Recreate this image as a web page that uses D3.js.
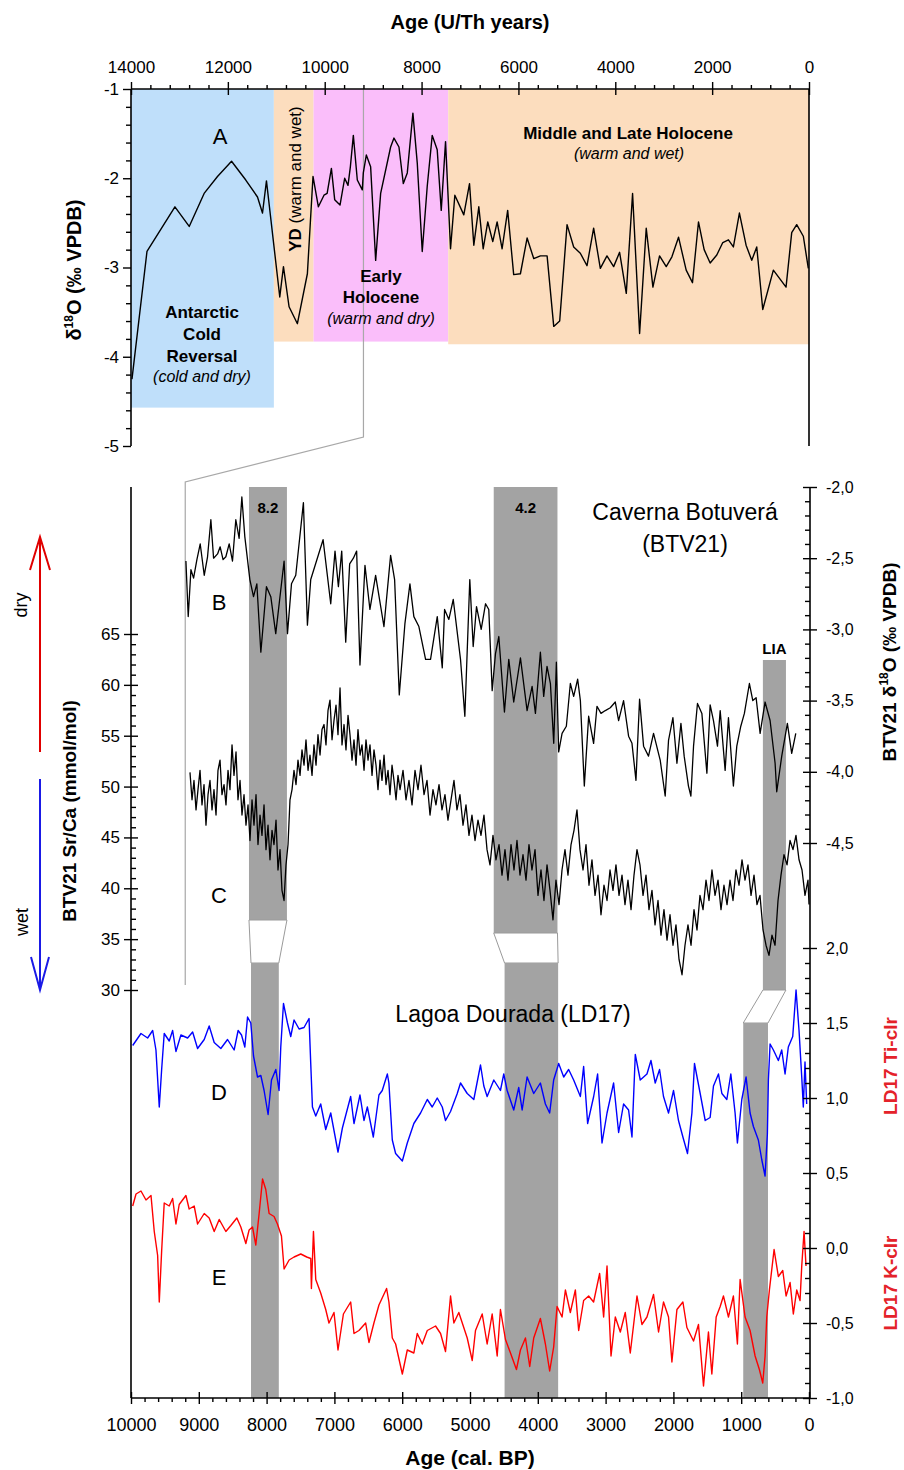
<!DOCTYPE html>
<html lang="en">

<head>
    <meta charset="UTF-8">
    <title>Botuvera and Lagoa Dourada records</title>

    <script src="https://d3js.org/d3.v7.min.js"></script>

    <style>
        body {
            margin: 0;
            background: #fff;
        }

        svg text {
            font-family: "Liberation Sans", Arial, Helvetica, sans-serif;
        }
    </style>

</head>

<body>
    <svg width="904" height="1470"></svg>

    <script>
        // ---- data: panel A, d18O (U/Th years) ----
        const ageA = [13980, 13670, 13093, 12798, 12490, 12214, 11924, 11630, 11388, 11285, 11203, 10928, 10852, 10736,
            10564, 10358, 10242, 10131, 10015, 9950, 9862, 9794, 9684, 9588, 9519, 9470, 9409, 9327, 9224, 9203, 9141,
            9052, 8948, 8845, 8639, 8570, 8467, 8377, 8295, 8179, 8089, 7986, 7883, 7780, 7677, 7594, 7505, 7402, 7313,
            7128, 7010, 6921, 6818, 6728, 6633, 6530, 6440, 6337, 6222, 6098, 5959, 5821, 5684, 5546, 5408, 5271, 5148,
            4996, 4859, 4722, 4584, 4447, 4309, 4172, 4034, 3911, 3773, 3643, 3498, 3361, 3223, 3086, 2948, 2831, 2694,
            2536, 2406, 2282, 2165, 2041, 1904, 1780, 1664, 1561, 1437, 1299, 1182, 1079, 955, 736, 474, 357, 254, 117, 14];
        const d18oA = [-4.25, -2.82, -2.32, -2.54, -2.17, -1.98, -1.81, -2.02, -2.21, -2.39, -2.03, -3.33, -2.99, -3.44,
            -3.63, -3.07, -1.98, -2.32, -2.19, -2.17, -1.89, -2.24, -2.30, -2.00, -2.08, -1.87, -1.52, -2.02, -2.13, -1.94,
            -1.74, -1.87, -2.92, -2.17, -1.65, -1.55, -1.65, -2.06, -1.94, -1.27, -1.83, -2.82, -2.09, -1.52, -1.68, -2.36,
            -1.59, -2.79, -2.19, -2.41, -2.06, -2.75, -2.32, -2.79, -2.49, -2.71, -2.49, -2.79, -2.36, -3.08, -3.07, -2.67,
            -2.90, -2.87, -2.87, -3.66, -3.60, -2.52, -2.77, -2.84, -2.98, -2.56, -3.01, -2.87, -2.99, -2.83, -3.29, -2.17,
            -3.74, -2.56, -3.22, -2.87, -2.99, -2.88, -2.66, -3.03, -3.17, -2.49, -2.80, -2.95, -2.86, -2.72, -2.69, -2.77,
            -2.39, -2.75, -2.92, -2.77, -3.47, -3.03, -3.22, -2.61, -2.52, -2.65, -3.01];

        // climate periods shaded behind panel A
        const periodStart = [14000, 11050, 10230, 7450];
        const periodEnd = [11050, 10230, 7450, 0];
        const periodColors = ["#bfdffa", "#fcddbe", "#fabefa", "#fcddbe"];

        // ---- data: panel B, BTV21 d18O (cal. BP) ----
        const ageB = [9190, 9156, 9116, 9077, 9028, 8979, 8920, 8871, 8822, 8782, 8723, 8685, 8642, 8601, 8552, 8503,
            8454, 8405, 8365, 8321, 8247, 8193, 8144, 8085, 8002, 7938, 7865, 7742, 7692, 7633, 7570, 7457, 7398, 7349,
            7167, 7054, 6991, 6941, 6892, 6833, 6775, 6720, 6672, 6623, 6549, 6476, 6392, 6269, 6171, 6112, 6043, 5960,
            5886, 5828, 5754, 5655, 5582, 5483, 5409, 5375, 5312, 5247, 5140, 5076, 5003, 4953, 4904, 4835, 4771, 4723,
            4673, 4624, 4575, 4492, 4428, 4355, 4256, 4158, 4084, 4035, 3962, 3913, 3864, 3814, 3765, 3726, 3692, 3642,
            3579, 3520, 3471, 3412, 3372, 3314, 3250, 3177, 3127, 3068, 3004, 2931, 2857, 2808, 2735, 2661, 2611, 2552,
            2499, 2440, 2367, 2293, 2194, 2121, 2072, 2007, 1948, 1889, 1841, 1778, 1742, 1703, 1645, 1580, 1506, 1458,
            1409, 1350, 1310, 1237, 1188, 1115, 1065, 1006, 953, 879, 829, 780, 721, 648, 574, 500, 476, 402, 319, 255, 195];
        const d18oB = [-2.52, -2.91, -2.58, -2.64, -2.51, -2.40, -2.62, -2.49, -2.23, -2.50, -2.47, -2.42, -2.51, -2.49,
            -2.40, -2.52, -2.23, -2.36, -2.07, -2.35, -2.65, -2.77, -2.68, -3.16, -2.70, -2.77, -3.03, -2.52, -3.03, -2.68,
            -2.62, -2.11, -2.97, -2.65, -2.37, -2.82, -2.45, -2.70, -2.45, -3.09, -2.54, -2.50, -2.45, -3.25, -2.55, -2.86,
            -2.62, -2.98, -2.48, -2.65, -3.46, -2.96, -2.68, -2.91, -2.98, -3.21, -3.21, -2.91, -3.27, -2.86, -2.93, -2.79,
            -3.21, -3.61, -2.65, -3.12, -2.84, -3.00, -2.82, -2.86, -3.43, -3.17, -3.05, -3.58, -3.21, -3.51, -3.20, -3.57,
            -3.40, -3.59, -3.16, -3.47, -3.26, -3.38, -3.80, -3.23, -3.86, -3.73, -3.68, -3.38, -3.47, -3.35, -3.50, -4.10,
            -3.61, -3.80, -3.54, -3.59, -3.57, -3.55, -3.51, -3.64, -3.50, -3.75, -3.80, -4.06, -3.49, -3.82, -3.89, -3.73,
            -3.92, -4.17, -3.78, -3.62, -3.94, -3.66, -3.89, -4.10, -4.17, -3.82, -3.52, -3.59, -4.01, -3.53, -3.64, -3.82,
            -3.57, -3.99, -3.62, -4.10, -3.82, -3.68, -3.59, -3.38, -3.50, -3.48, -3.73, -3.51, -3.64, -3.94, -4.14, -3.89,
            -3.66, -3.87, -3.73];

        // ---- data: panel C, BTV21 Sr/Ca (mmol/mol) ----
        const ageC = [9130, 9100, 9071, 9041, 9012, 8982, 8953, 8923, 8894, 8864,
            8835, 8805, 8776, 8746, 8717, 8687, 8658, 8628, 8599, 8569,
            8540, 8510, 8481, 8451, 8422, 8392, 8363, 8333, 8304, 8274,
            8245, 8215, 8186, 8156, 8127, 8097, 8068, 8038, 8009, 7979,
            7950, 7920, 7891, 7861, 7832, 7802, 7773, 7743, 7714, 7684,
            7655, 7625, 7596, 7566, 7537, 7507, 7478, 7448, 7419, 7389,
            7360, 7330, 7301, 7271, 7242, 7212, 7183, 7153, 7124, 7094,
            7065, 7035, 7006, 6976, 6947, 6917, 6888, 6858, 6829, 6799,
            6770, 6740, 6711, 6681, 6652, 6622, 6593, 6563, 6534, 6504,
            6475, 6445, 6416, 6386, 6357, 6327, 6298, 6268, 6239, 6209,
            6180, 6150, 6121, 6091, 6062, 6032,
            5988, 5944, 5900, 5855, 5811, 5767, 5723, 5678, 5634, 5590,
            5546, 5502, 5457, 5413, 5369, 5325, 5280, 5236, 5192, 5148,
            5103, 5059, 5015, 4971, 4926, 4882, 4838, 4794, 4749, 4705,
            4661, 4617, 4572, 4528, 4484, 4440, 4395, 4351, 4307, 4263,
            4218, 4174, 4130, 4086, 4041, 3997, 3953, 3909, 3864, 3820,
            3776, 3732, 3687, 3643, 3599, 3555, 3510, 3466, 3422, 3378,
            3333, 3289, 3245, 3201, 3156, 3112, 3068, 3024, 2979, 2935,
            2891, 2847, 2802, 2758, 2714, 2670, 2625, 2581, 2537, 2493,
            2448, 2404, 2360, 2316, 2271, 2227, 2183, 2139, 2094, 2050,
            2006, 1962, 1917, 1873, 1829, 1785, 1740, 1696, 1652, 1608,
            1563, 1519, 1475, 1431, 1386, 1342, 1298, 1254, 1209, 1165,
            1121, 1077, 1032, 988, 944, 900, 855, 811, 767, 723,
            678, 634, 590, 546, 501, 457, 413, 369, 324, 280,
            236, 192, 147, 103, 59, 15, 0];
        const srcaC = [51.4, 48.7, 50.6, 47.7, 49.7, 51.6, 48.2, 50.2, 46.2, 49.2,
            50.6, 47.7, 49.7, 47.2, 51.6, 52.6, 49.2, 50.2, 48.2, 51.6,
            49.7, 54.1, 51.1, 53.4, 48.7, 50.6, 47.2, 49.2, 46.2, 48.2,
            44.7, 48.7, 46.2, 49.2, 44.3, 47.2, 45.2, 48.2, 43.8, 46.2,
            42.8, 45.7, 44.3, 46.7, 41.8, 43.8, 39.8, 38.8, 42.3, 44.3,
            48.7, 49.7, 51.6, 50.2, 52.6, 51.1, 53.6, 52.1, 54.6, 51.6,
            53.1, 51.1, 54.1, 52.1, 55.1, 53.1, 55.6, 56.1, 54.1, 57.5,
            58.5, 54.6, 56.5, 58.0, 55.1, 59.7, 54.1, 56.1, 53.6, 57.0,
            55.1, 52.6, 54.6, 52.1, 55.6, 53.1, 54.1, 51.6, 54.6, 52.6,
            54.1, 51.1, 53.6, 52.1, 49.7, 52.6, 50.6, 53.1, 50.2, 51.6,
            49.2, 52.1, 50.6, 48.7, 51.1, 49.7,
            51.6, 48.7, 50.6, 48.2, 51.6, 49.7, 52.1, 49.2, 50.6, 47.2,
            49.7, 48.2, 50.2, 47.7, 49.2, 46.7, 48.7, 50.6, 47.7, 49.2,
            46.2, 48.2, 45.2, 47.2, 44.7, 46.7, 45.2, 47.2, 43.8, 42.3,
            45.2, 42.8, 44.3, 41.3, 43.8, 40.8, 44.3, 41.8, 44.7, 41.3,
            43.3, 40.8, 44.3, 41.8, 43.8, 39.3, 41.8, 38.8, 42.3, 39.8,
            36.9, 40.8, 38.4, 41.8, 43.8, 41.3, 44.3, 45.7, 47.7, 43.8,
            41.8, 44.3, 40.3, 42.8, 39.3, 41.3, 37.4, 40.3, 38.8, 41.8,
            39.8, 42.3, 39.3, 41.3, 38.4, 40.8, 37.9, 41.3, 43.8, 42.3,
            39.3, 41.3, 37.9, 39.8, 36.4, 38.8, 35.4, 37.9, 34.9, 37.4,
            34.4, 36.4, 33.0, 31.5, 34.4, 36.4, 34.4, 37.9, 35.9, 39.3,
            37.9, 40.8, 38.8, 41.8, 39.3, 40.8, 37.9, 40.3, 38.4, 40.8,
            38.8, 41.8, 40.3, 42.8, 40.8, 42.3, 39.3, 41.3, 38.4, 39.3,
            35.9, 34.4, 33.4, 35.4, 34.4, 38.8, 41.3, 43.3, 42.3, 44.7,
            43.8, 45.2, 42.8, 41.8, 39.3, 40.8, 38.4];

        // ---- data: panel D, LD17 Ti-clr ----
        const ageD = [9975, 9853, 9755, 9680, 9632, 9583, 9548, 9510, 9436, 9386, 9337, 9264, 9165, 9091, 9018, 8920,
            8847, 8773, 8675, 8576, 8479, 8420, 8370, 8321, 8281, 8233, 8193, 8134, 8085, 8037, 7978, 7928, 7864, 7816,
            7791, 7751, 7692, 7644, 7595, 7521, 7448, 7374, 7349, 7324, 7275, 7202, 7128, 7054, 6947, 6882, 6760, 6711,
            6623, 6564, 6514, 6426, 6343, 6294, 6219, 6196, 6146, 6097, 5998, 5925, 5828, 5729, 5630, 5557, 5483, 5409,
            5361, 5287, 5188, 5140, 5041, 4944, 4845, 4796, 4747, 4649, 4551, 4502, 4452, 4355, 4281, 4231, 4158, 4060,
            3962, 3888, 3825, 3766, 3692, 3618, 3545, 3471, 3372, 3324, 3265, 3176, 3118, 3053, 2979, 2882, 2808, 2735,
            2661, 2611, 2562, 2489, 2390, 2331, 2268, 2204, 2146, 2072, 1998, 1925, 1860, 1792, 1727, 1689, 1605, 1531,
            1458, 1409, 1335, 1285, 1212, 1153, 1090, 1056, 991, 928, 869, 820, 747, 697, 648, 614, 599, 574, 525, 452,
            402, 353, 305, 240, 191, 147, 107, 84, 59, 34];
        const tiD = [1.35, 1.43, 1.40, 1.45, 1.32, 0.94, 1.19, 1.43, 1.38, 1.45, 1.31, 1.42, 1.40, 1.44, 1.33, 1.39,
            1.48, 1.37, 1.33, 1.39, 1.32, 1.45, 1.42, 1.34, 1.54, 1.50, 1.28, 1.14, 1.15, 1.05, 0.89, 1.12, 1.19, 1.05,
            1.34, 1.63, 1.50, 1.41, 1.52, 1.46, 1.47, 1.53, 1.23, 0.94, 0.88, 0.96, 0.79, 0.90, 0.64, 0.80, 1.01, 0.83,
            1.02, 0.85, 0.94, 0.74, 1.02, 1.05, 1.16, 1.10, 0.72, 0.63, 0.58, 0.70, 0.83, 0.90, 0.99, 0.94, 1.00, 0.94,
            0.85, 0.91, 1.03, 1.10, 1.03, 0.99, 1.22, 1.08, 1.01, 1.12, 1.05, 1.16, 1.05, 0.92, 1.07, 0.92, 1.14, 1.03,
            1.10, 0.96, 0.90, 1.12, 1.23, 1.14, 1.19, 1.12, 1.01, 1.21, 0.83, 1.01, 1.16, 0.70, 0.90, 1.10, 0.77, 0.96,
            0.92, 0.74, 1.29, 1.12, 1.16, 1.25, 1.10, 1.19, 1.01, 0.90, 1.05, 0.85, 0.74, 0.63, 0.90, 1.23, 1.03, 0.85,
            0.87, 1.08, 1.16, 1.03, 0.99, 1.16, 0.90, 0.70, 0.99, 1.14, 0.90, 0.81, 0.72, 0.59, 0.48, 0.76, 1.12, 1.36,
            1.32, 1.25, 1.32, 1.16, 1.34, 1.41, 1.72, 1.45, 1.14, 0.94, 1.24, 0.96];

        // ---- data: panel E, LD17 K-clr ----
        const ageE = [9975, 9926, 9853, 9779, 9705, 9657, 9607, 9583, 9548, 9510, 9436, 9386, 9337, 9289, 9190, 9142,
            9068, 9018, 8920, 8847, 8773, 8699, 8601, 8527, 8439, 8380, 8306, 8258, 8208, 8159, 8110, 8060, 8012, 7963,
            7890, 7840, 7781, 7742, 7668, 7595, 7496, 7408, 7349, 7339, 7309, 7275, 7202, 7128, 7080, 7006, 6947, 6867,
            6760, 6711, 6638, 6539, 6490, 6417, 6343, 6230, 6196, 6146, 6097, 5998, 5925, 5828, 5778, 5704, 5630, 5508,
            5434, 5361, 5287, 5238, 5165, 5041, 4967, 4919, 4820, 4747, 4673, 4599, 4551, 4477, 4403, 4315, 4256, 4182,
            4119, 4060, 3962, 3888, 3825, 3766, 3716, 3642, 3593, 3520, 3446, 3397, 3324, 3250, 3177, 3088, 3029, 2979,
            2920, 2857, 2783, 2710, 2636, 2537, 2464, 2390, 2293, 2219, 2146, 2072, 2022, 1948, 1860, 1801, 1703, 1630,
            1556, 1483, 1433, 1369, 1310, 1262, 1188, 1115, 1056, 1016, 943, 869, 795, 732, 682, 648, 623, 584, 515, 452,
            387, 338, 279, 231, 181, 132, 107, 73, 44];
        const kE = [0.28, 0.36, 0.38, 0.32, 0.35, 0.11, -0.05, -0.36, -0.02, 0.30, 0.28, 0.33, 0.16, 0.29, 0.35, 0.26,
            0.28, 0.16, 0.23, 0.20, 0.11, 0.19, 0.11, 0.15, 0.20, 0.14, 0.03, 0.12, 0.14, 0.02, 0.23, 0.46, 0.39, 0.23,
            0.21, 0.16, 0.08, -0.14, -0.08, -0.06, -0.04, -0.06, -0.07, -0.27, 0.11, -0.21, -0.30, -0.41, -0.50, -0.43,
            -0.68, -0.44, -0.36, -0.57, -0.55, -0.50, -0.63, -0.50, -0.38, -0.27, -0.36, -0.60, -0.64, -0.84, -0.68,
            -0.70, -0.57, -0.64, -0.55, -0.52, -0.57, -0.69, -0.32, -0.50, -0.43, -0.60, -0.75, -0.55, -0.44, -0.64, -0.44,
            -0.72, -0.41, -0.61, -0.70, -0.81, -0.68, -0.60, -0.79, -0.60, -0.47, -0.64, -0.82, -0.66, -0.39, -0.46, -0.28,
            -0.43, -0.28, -0.55, -0.35, -0.32, -0.36, -0.17, -0.46, -0.12, -0.72, -0.46, -0.56, -0.43, -0.70, -0.32, -0.51,
            -0.46, -0.31, -0.56, -0.36, -0.46, -0.76, -0.41, -0.36, -0.53, -0.62, -0.51, -0.92, -0.56, -0.84, -0.46, -0.39,
            -0.32, -0.46, -0.32, -0.64, -0.21, -0.46, -0.55, -0.72, -0.81, -0.90, -0.72, -0.46, -0.28, -0.01, -0.19, -0.15,
            -0.32, -0.23, -0.44, -0.28, -0.35, -0.12, 0.11, -0.12];

        // ---- abrupt events (cal. BP): upper part (Botuvera) and lower part (Lagoa Dourada) ----
        const eventLabels = ["8.2", "4.2", "LIA"];
        const eventUpperOld = [8260, 4650, 680];
        const eventUpperYoung = [7700, 3710, 340];
        const eventLowerOld = [8230, 4490, 970];
        const eventLowerYoung = [7820, 3700, 605];
        const linkAge = 9200;

        // ---- tick values ----
        const topTicks = d3.range(0, 14001, 2000);
        const leftTopTicks = [-1, -2, -3, -4, -5];
        const bottomTicks = d3.range(0, 10001, 1000);
        const srTicks = [30, 35, 40, 45, 50, 55, 60, 65];
        const btvTicks = [-2, -2.5, -3, -3.5, -4, -4.5];
        const ldTicks = [2, 1.5, 1, 0.5, 0, -0.5, -1];

        const svg = d3.select("svg");

        // scales
        const xTop = d3.scaleLinear().domain([14000, 0]).range([131, 809]);
        const yTop = d3.scaleLinear().domain([-1, -5]).range([89, 446]);
        const xBot = d3.scaleLinear().domain([10000, 0]).range([131, 809]);
        const yBtv = d3.scaleLinear().domain([-2, -4.5]).range([487, 843]);
        const ySr = d3.scaleLinear().domain([65, 30]).range([634, 990]);
        const yLd = d3.scaleLinear().domain([2, -1]).range([948, 1398]);

        const comma = d => d3.format(".1f")(Math.abs(d)).replace(".", ",");
        const signed = d => (d < 0 ? "-" : "") + comma(d);

        // ================= top panel =================
        const shadeFloor = [-4.57, -3.83, -3.83, -3.86];
        svg.append("g").selectAll("rect")
            .data(periodStart)
            .join("rect")
            .attr("x", (d, i) => xTop(periodStart[i]))
            .attr("width", (d, i) => xTop(periodEnd[i]) - xTop(periodStart[i]))
            .attr("y", yTop(-1))
            .attr("height", (d, i) => yTop(shadeFloor[i]) - yTop(-1))
            .attr("fill", (d, i) => periodColors[i]);

        // grey link lines between the two age scales
        svg.append("path")
            .attr("d", `M${xTop(linkAge)},${yTop(-1)} V437 L${xBot(linkAge)},482 V985`)
            .attr("fill", "none")
            .attr("stroke", "#a8a8a8")
            .attr("stroke-width", 1.2);

        const lineA = d3.line()
            .x((d, i) => xTop(ageA[i]))
            .y(d => yTop(d));
        svg.append("path")
            .attr("d", lineA(d18oA))
            .attr("fill", "none")
            .attr("stroke", "#000")
            .attr("stroke-width", 1.4)
            .attr("stroke-linejoin", "round");

        // top axis (U/Th years)
        svg.append("g")
            .attr("transform", "translate(0,89)")
            .call(d3.axisTop(xTop).tickValues(d3.range(400, 14000, 400).filter(d => d % 2000 !== 0))
                .tickSize(4).tickFormat(""));
        const topAxis = svg.append("g")
            .attr("transform", "translate(0,89)")
            .call(d3.axisTop(xTop).tickValues(topTicks).tickSize(7).tickPadding(9).tickFormat(d3.format("d")));
        topAxis.selectAll(".tick line").attr("y1", 6);

        // left axis (panel A)
        svg.append("g")
            .attr("transform", "translate(131,0)")
            .call(d3.axisLeft(yTop).tickValues(d3.range(-1.2, -4.9, -0.2).filter(d => Math.abs(d % 1) > 0.01))
                .tickSize(5).tickFormat(""));
        const leftTopAxis = svg.append("g")
            .attr("transform", "translate(131,0)")
            .call(d3.axisLeft(yTop).tickValues(leftTopTicks).tickSize(8).tickPadding(4).tickFormat(d => String(d)));

        // ================= bottom panel =================
        const bandGrey = "#a3a3a3";
        const bands = svg.append("g");
        const upperBottom = [920, 933, 990];
        const upperTop = [487, 487, 660];
        const lowerTop = [963, 963, 1023];
        eventLabels.forEach((name, i) => {
            const uo = xBot(eventUpperOld[i]), uy = xBot(eventUpperYoung[i]);
            const lo = xBot(eventLowerOld[i]), ly = xBot(eventLowerYoung[i]);
            bands.append("rect")
                .attr("x", uo).attr("width", uy - uo)
                .attr("y", upperTop[i]).attr("height", upperBottom[i] - upperTop[i])
                .attr("fill", bandGrey);
            bands.append("path")
                .attr("d", `M${uo},${upperBottom[i]} L${uy},${upperBottom[i]} L${ly},${lowerTop[i]} L${lo},${lowerTop[i]} Z`)
                .attr("fill", "#fff")
                .attr("stroke", "#9a9a9a")
                .attr("stroke-width", 1);
            bands.append("rect")
                .attr("x", lo).attr("width", ly - lo)
                .attr("y", lowerTop[i]).attr("height", 1398 - lowerTop[i])
                .attr("fill", bandGrey);
            bands.append("text")
                .attr("x", (uo + uy) / 2)
                .attr("y", upperTop[i] + (i < 2 ? 26 : -6))
                .attr("text-anchor", "middle")
                .attr("font-size", 15)
                .attr("font-weight", "bold")
                .text(name);
        });

        function drawSeries(ages, values, yScale, color, width) {
            const line = d3.line()
                .x((d, i) => xBot(ages[i]))
                .y(d => yScale(d));
            svg.append("path")
                .attr("d", line(values))
                .attr("fill", "none")
                .attr("stroke", color)
                .attr("stroke-width", width)
                .attr("stroke-linejoin", "round");
        }

        drawSeries(ageB, d18oB, yBtv, "#000", 1.3);
        drawSeries(ageC, srcaC, ySr, "#000", 1.3);
        drawSeries(ageD, tiD, yLd, "#0000ff", 1.4);
        drawSeries(ageE, kE, yLd, "#ff0000", 1.4);

        // bottom axis (cal. BP)
        svg.append("g")
            .attr("transform", "translate(0,1398)")
            .call(d3.axisBottom(xBot).tickValues(d3.range(200, 10000, 200).filter(d => d % 1000 !== 0))
                .tickSize(4).tickFormat(""));
        const botAxis = svg.append("g")
            .attr("transform", "translate(0,1398)")
            .call(d3.axisBottom(xBot).tickValues(bottomTicks).tickSize(6).tickPadding(14).tickFormat(d3.format("d")));
        botAxis.selectAll(".tick line").attr("y1", -6);

        // left axis Sr/Ca
        svg.append("g")
            .attr("transform", "translate(131,0)")
            .call(d3.axisRight(ySr).tickValues(d3.range(31, 65).filter(d => d % 5 !== 0))
                .tickSize(5).tickFormat(""));
        const srAxis = svg.append("g")
            .attr("transform", "translate(131,0)")
            .call(d3.axisLeft(ySr).tickValues(srTicks).tickSize(7).tickPadding(4).tickFormat(d3.format("d")));
        srAxis.selectAll(".tick line").attr("x1", 7);

        // right axes
        svg.append("g")
            .attr("transform", "translate(810,0)")
            .call(d3.axisLeft(yBtv).tickValues(d3.range(-2.1, -4.45, -0.1).filter(d => Math.abs((d * 10) % 5) > 0.1))
                .tickSize(5).tickFormat(""));
        const btvAxis = svg.append("g")
            .attr("transform", "translate(810,0)")
            .call(d3.axisRight(yBtv).tickValues(btvTicks).tickSize(7).tickPadding(9).tickFormat(signed));
        btvAxis.selectAll(".tick line").attr("x1", -7);

        svg.append("g")
            .attr("transform", "translate(810,0)")
            .call(d3.axisLeft(yLd).tickValues(d3.range(1.9, -0.95, -0.1).filter(d => Math.abs((Math.round(d * 10)) % 5) !== 0))
                .tickSize(5).tickFormat(""));
        const ldAxis = svg.append("g")
            .attr("transform", "translate(810,0)")
            .call(d3.axisRight(yLd).tickValues(ldTicks).tickSize(7).tickPadding(9).tickFormat(signed));
        ldAxis.selectAll(".tick line").attr("x1", -7);

        // clean axis styling
        svg.selectAll(".domain").remove();
        svg.selectAll(".tick line").attr("stroke", "#000").attr("stroke-width", 1.4);
        svg.selectAll(".tick text").attr("fill", "#000")
            .style("font-family", '"Liberation Sans", Arial, sans-serif');
        topAxis.selectAll("text").attr("font-size", 17);
        leftTopAxis.selectAll("text").attr("font-size", 17);
        botAxis.selectAll("text").attr("font-size", 18);
        srAxis.selectAll("text").attr("font-size", 17);
        btvAxis.selectAll("text").attr("font-size", 16);
        ldAxis.selectAll("text").attr("font-size", 16);

        // frames
        const frame = [
            [131, 89, 809, 89], [131, 89, 131, 446], [809, 89, 809, 446],
            [131, 1398, 810, 1398], [131, 487, 131, 1398], [810, 487, 810, 1398]
        ];
        svg.append("g").selectAll("line")
            .data(frame)
            .join("line")
            .attr("x1", d => d[0]).attr("y1", d => d[1])
            .attr("x2", d => d[2]).attr("y2", d => d[3])
            .attr("stroke", "#000")
            .attr("stroke-width", 1.6);

        // ================= text =================
        function label(x, y, txt, size, opts = {}) {
            return svg.append("text")
                .attr("x", x).attr("y", y)
                .attr("text-anchor", opts.anchor || "middle")
                .attr("font-size", size)
                .attr("font-weight", opts.bold ? "bold" : null)
                .attr("font-style", opts.italic ? "italic" : null)
                .attr("fill", opts.color || "#000")
                .attr("transform", opts.rotate ? `rotate(-90,${x},${y})` : null)
                .text(txt);
        }

        label(470, 29, "Age (U/Th years)", 20, { bold: true });
        label(470, 1465, "Age (cal. BP)", 21, { bold: true });

        label(220, 144, "A", 22);
        label(202, 318, "Antarctic", 17, { bold: true });
        label(202, 340, "Cold", 17, { bold: true });
        label(202, 362, "Reversal", 17, { bold: true });
        label(202, 382, "(cold and dry)", 16, { italic: true });
        label(381, 282, "Early", 17, { bold: true });
        label(381, 303, "Holocene", 17, { bold: true });
        label(381, 324, "(warm and dry)", 16, { italic: true });
        label(628, 139, "Middle and Late Holocene", 17, { bold: true });
        label(629, 159, "(warm and wet)", 16, { italic: true });

        const yd = label(301, 179, "", 17, { rotate: true });
        yd.append("tspan").attr("font-weight", "bold").text("YD");
        yd.append("tspan").text(" (warm and wet)");

        const yA = label(81, 270, "", 20, { bold: true, rotate: true });
        yA.append("tspan").text("δ");
        yA.append("tspan").attr("font-size", 12).attr("dy", -8).text("18");
        yA.append("tspan").attr("dy", 8).text("O (‰ VPDB)");

        label(219, 610, "B", 22);
        label(219, 903, "C", 22);
        label(219, 1100, "D", 22);
        label(219, 1285, "E", 22);

        label(685, 520, "Caverna Botuverá", 23);
        label(685, 552, "(BTV21)", 23);
        label(513, 1022, "Lagoa Dourada (LD17)", 23);

        label(76, 811, "BTV21 Sr/Ca (mmol/mol)", 19, { bold: true, rotate: true });
        label(27, 605, "dry", 18, { rotate: true });
        label(28, 922, "wet", 18, { rotate: true });

        const yR = label(896, 662, "", 19, { bold: true, rotate: true });
        yR.append("tspan").text("BTV21 δ");
        yR.append("tspan").attr("font-size", 12).attr("dy", -8).text("18");
        yR.append("tspan").attr("dy", 8).text("O (‰ VPDB)");
        label(897, 1066, "LD17 Ti-clr", 19, { bold: true, rotate: true, color: "#e4222a" });
        label(897, 1283, "LD17 K-clr", 19, { bold: true, rotate: true, color: "#e4222a" });

        // dry / wet arrows
        svg.append("path").attr("d", "M40,752 V538 M30,570 L40,537 L50,570")
            .attr("fill", "none").attr("stroke", "#e00000").attr("stroke-width", 2);
        svg.append("path").attr("d", "M40,779 V989 M31,957 L40,990 L49,957")
            .attr("fill", "none").attr("stroke", "#1a1ae6").attr("stroke-width", 2);
    </script>
</body>

</html>
